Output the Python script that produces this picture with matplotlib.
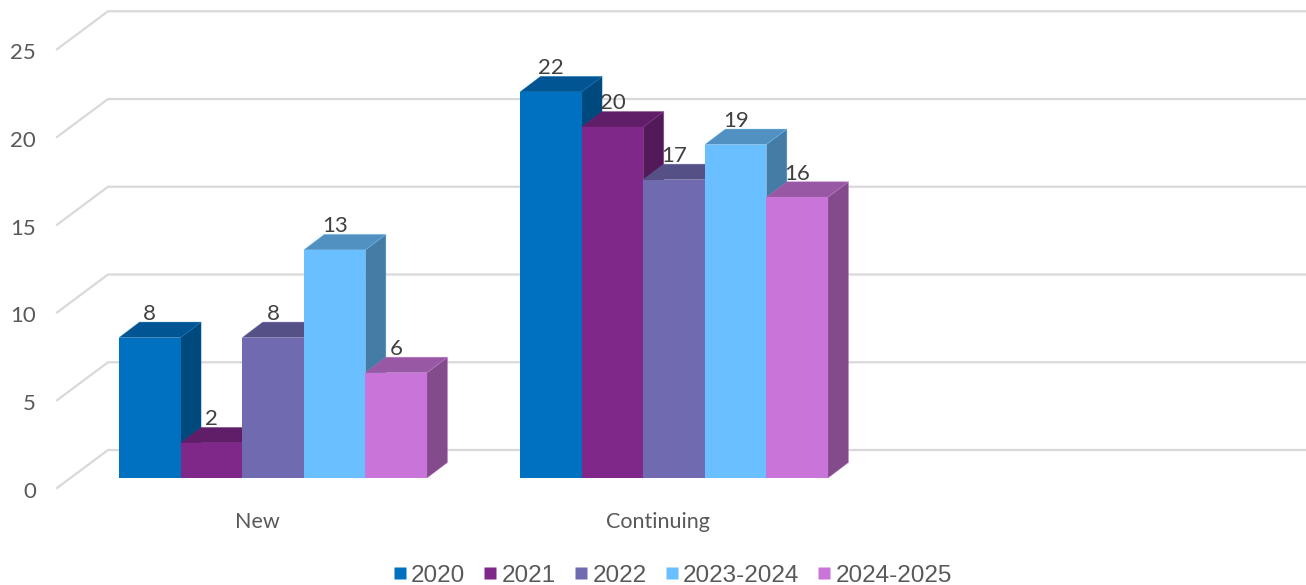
import matplotlib
matplotlib.use('Agg')
import matplotlib.pyplot as plt
from matplotlib.colors import to_rgb
from matplotlib.lines import Line2D
from matplotlib.patches import Polygon

# Datos
categories = ['New', 'Continuing']
series_names = ['2020', '2021', '2022', '2023-2024', '2024-2025']
new_values = [8, 2, 8, 13, 6]
continuing_values = [22, 20, 17, 19, 16]
y_ticks = [0, 5, 10, 15, 20, 25]
colors = ['#0070C0', '#7F2889', '#706BB0', '#69BFFF', '#C974D8']

# Escala: una categoria = 401 px, una unidad = 17.55 px
W, H = 1306, 585
PX_X = 401.0
PX_Y = 17.55
X0 = 273.0
bar_w = 61.6 / PX_X
depth_x = 20.5 / PX_X
depth_y = 15.5 / PX_Y


def shade(color, factor):
    r, g, b = to_rgb(color)
    return (r * factor, g * factor, b * factor)


fig = plt.figure(figsize=(W / 100, H / 100), dpi=100)
ax = fig.add_axes([0, 0, 1, 1])
ax.set_xlim((0 - X0) / PX_X, (W - X0) / PX_X)
ax.set_ylim(-(H - 478) / PX_Y, 478 / PX_Y)
ax.axis('off')

# Rejilla en perspectiva
wall_left = (57 - X0) / PX_X
wall_back = (108 - X0) / PX_X
for t in y_ticks:
    y_front = t - 10 / PX_Y
    y_back = t + 28 / PX_Y
    ax.plot([wall_left, wall_back, (W - X0) / PX_X], [y_front, y_back, y_back],
            color='#D9D9D9', lw=1.6, solid_joinstyle='miter', zorder=1)
    ax.text(wall_left - 21 / PX_X, y_front - 4 / PX_Y, str(t), ha='right', va='center',
            fontsize=16, family='Lato', color='#595959')


# Barras 3D
def draw_bar(x, value, color, z):
    edge = dict(ec=shade(color, 1.0) + (0.35,), lw=0.6)
    top = [(x, value), (x + bar_w, value), (x + bar_w + depth_x, value + depth_y), (x + depth_x, value + depth_y)]
    side = [(x + bar_w, 0), (x + bar_w + depth_x, depth_y), (x + bar_w + depth_x, value + depth_y), (x + bar_w, value)]
    ax.add_patch(Polygon(side, fc=shade(color, 0.65), zorder=z, **edge))
    ax.add_patch(Polygon(top, fc=shade(color, 0.76), zorder=z, **edge))
    ax.bar(x, value, bar_w, align='edge', color=color, zorder=z + 0.5)


z = 2
for i, values in enumerate([new_values, continuing_values]):
    n = len(values)
    for j, v in enumerate(values):
        x = i + (j - n / 2) * bar_w
        draw_bar(x, v, colors[j], z)
        ax.text(x + bar_w / 2, v + depth_y - 2 / PX_Y, str(v), ha='center', va='bottom',
                fontsize=16, family='Lato', color='#404040', zorder=50)
        z += 1
    ax.text(i - 16 / PX_X, -44 / PX_Y, categories[i], ha='center', va='center',
            fontsize=15.5, family='Lato', color='#595959')

# Leyenda
handles = [Line2D([], [], ls='none', marker='s', ms=8.5, mfc=c, mec='none') for c in colors]
ax.legend(handles, series_names, ncol=5, loc='lower center', bbox_to_anchor=(673 / W, -19 / H),
          frameon=False, prop={'family': 'Liberation Sans', 'size': 17.5}, labelcolor='#595959',
          handlelength=0.5, handletextpad=0.22, columnspacing=0.78, borderpad=0.2)

fig.savefig('out.png', dpi=100)
